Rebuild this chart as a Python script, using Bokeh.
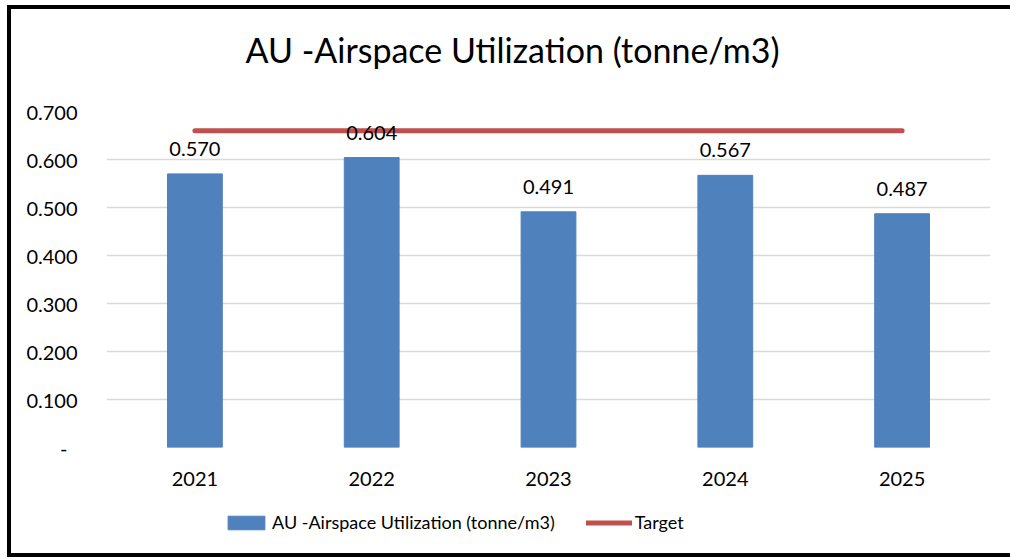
from bokeh.plotting import figure
from bokeh.layouts import column
from bokeh.models import (ColumnDataSource, Range1d, FactorRange, Legend, LegendItem,
                          FixedTicker, Title)
from bokeh.core.properties import value
from bokeh.embed import file_html
from bokeh.resources import INLINE

# ---- data ----
years = ["2021", "2022", "2023", "2024", "2025"]
utilization = [0.570, 0.604, 0.491, 0.567, 0.487]
target = [0.66, 0.66, 0.66, 0.66, 0.66]
y_ticks = [0.0, 0.1, 0.2, 0.3, 0.4, 0.5, 0.6, 0.7]
y_tick_labels = ["-\u2002", "0.100", "0.200", "0.300", "0.400", "0.500", "0.600", "0.700"]
title_text = "AU -Airspace Utilization (tonne/m3)"
series_name = "AU -Airspace Utilization (tonne/m3)"
target_name = "Target"

FONT = "Lato"
BAR = "#4F81BD"
RED = "#C0504D"
NAN = float("nan")

src = ColumnDataSource(dict(
    year=years,
    val=utilization,
    target=target,
    lbl=[f"{v:.3f}" for v in utilization],
))

p = figure(
    x_range=FactorRange(*years, range_padding=0),
    y_range=Range1d(0, 0.7),
    width=999, height=488,
    min_border_left=95, min_border_right=20,
    min_border_top=102, min_border_bottom=50,
    output_backend="svg", toolbar_location=None,
    title=title_text,
)

# spacer between frame and title
p.add_layout(Title(text=" ", text_font_size="2px", standoff=38), "above")
p.title.text_font = FONT
p.title.text_font_size = "34px"
p.title.text_font_style = "normal"
p.title.text_color = "#000000"
p.title.align = "left"
p.title.offset = 139
p.title.standoff = 0

p.outline_line_color = None
p.background_fill_color = "white"
p.border_fill_color = "white"

# axes
p.yaxis.ticker = FixedTicker(ticks=y_ticks)
p.yaxis.major_label_overrides = {t: l for t, l in zip(y_ticks, y_tick_labels)}
for ax in (p.xaxis[0], p.yaxis[0]):
    ax.axis_line_color = None
    ax.major_tick_line_color = None
    ax.minor_tick_line_color = None
    ax.major_tick_out = 0
    ax.major_tick_in = 0
    ax.major_label_text_font = FONT
    ax.major_label_text_font_size = "20px"
    ax.major_label_text_color = "#000000"
p.yaxis.major_label_standoff = 29
p.xaxis.major_label_standoff = 24

p.xgrid.grid_line_color = None
p.ygrid.grid_line_color = "#D9D9D9"
p.ygrid.grid_line_width = 1.5

bars = p.vbar(x="year", top="val", width=0.31, source=src,
              fill_color=BAR, line_color=BAR)
line = p.line(x="year", y="target", source=src, line_color=RED,
              line_width=5, line_cap="round")

p.text(x="year", y="val", text="lbl", source=src,
       text_align="center", text_baseline="alphabetic", y_offset=-25,
       text_font=value(FONT), text_font_size="20px", text_color="#000000")

# ---- legend strip (separate figure below the chart) ----
pl = figure(width=999, height=56, x_range=Range1d(0, 1), y_range=Range1d(0, 1),
            output_backend="svg", toolbar_location=None,
            x_axis_location=None, y_axis_location=None, min_border=0)
pl.grid.visible = False
pl.outline_line_color = None
pl.background_fill_color = "white"
pl.border_fill_color = "white"
# legend swatches: same styles as the chart's glyphs, with no drawable data
lg_bar = pl.vbar(x=[NAN], top=[NAN], width=0.1, fill_color=BAR, line_color=BAR)
lg_line = pl.line(x=[NAN, NAN], y=[NAN, NAN], line_color=RED, line_width=5,
                  line_cap="round")

legend = Legend(
    items=[LegendItem(label=series_name, renderers=[lg_bar]),
           LegendItem(label=target_name, renderers=[lg_line])],
    orientation="horizontal",
    location=(117, 20),
    glyph_width=46, glyph_height=17,
    label_standoff=3, spacing=31,
    padding=6, margin=0,
    label_text_font=FONT, label_text_font_size="18px",
    label_text_color="#000000",
    border_line_color=None, background_fill_alpha=0,
)
pl.add_layout(legend, "center")

layout = column(p, pl, spacing=0,
                styles={"border-top": "4px solid black",
                        "border-left": "4px solid black",
                        "border-bottom": "4px solid black",
                        "border-right": "0px none",
                        "box-shadow": "none", "outline": "none",
                        "margin": "5px 0px 0px 7px", "box-sizing": "content-box"})
open("out.html", "w").write(file_html(layout, INLINE))
